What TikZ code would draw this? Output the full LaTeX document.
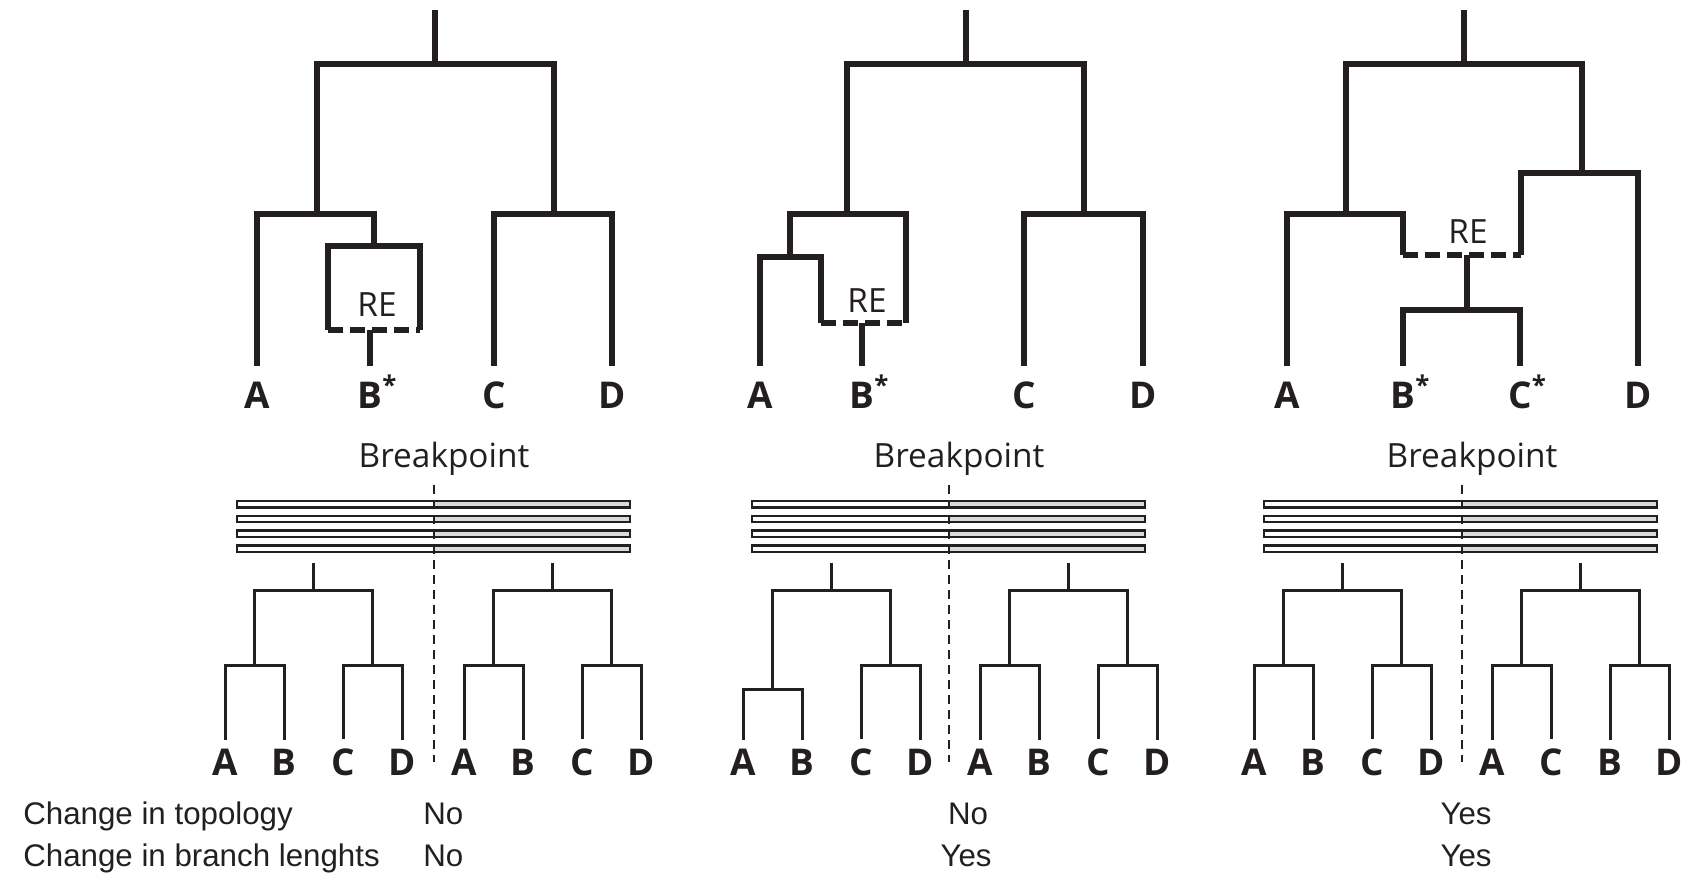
\documentclass[tikz,border=0pt]{standalone}
\usepackage{fontspec}
\setmainfont{Open Sans}
\newfontfamily\tablefont{Liberation Sans}
\definecolor{ink}{HTML}{231F20}
\definecolor{barfill}{HTML}{D9DADB}

\begin{document}
\begin{tikzpicture}[x=0.02cm, y=-0.02cm, ink,
  branch/.style={draw=ink, line width=0.105cm},
  rebranch/.style={draw=ink, line width=0.105cm, dash pattern=on 0.3cm off 0.14cm},
  tip/.style={shorten <=0.3cm},
  tipend/.style={shorten >=0.3cm},
  tips/.style={shorten <=0.3cm, shorten >=0.3cm},
  twig/.style={draw=ink, line width=0.06cm},
  twigtips/.style={shorten <=0.17cm, shorten >=0.17cm},
  leaf/.style={anchor=base, inner sep=0pt, font=\fontsize{21}{21}\selectfont\bfseries},
  note/.style={anchor=base, inner sep=0pt, font=\fontsize{19}{19}\selectfont},
  segment/.style={draw=ink, line width=0.045cm},
  breakline/.style={draw=ink, line width=0.04cm, dash pattern=on 0.18cm off 0.12cm},
  answer/.style={anchor=base west, inner sep=0pt, font=\tablefont\fontsize{17.8}{17.8}\selectfont}]
\useasboundingbox (0,0) rectangle (1697,886);

\node[leaf] (A1) at (257,408) {A};
\node[leaf] (B1) at (370,408) {B\rlap{\smash{\textsuperscript{*}}}};
\node[leaf] (C1) at (494,408) {C};
\node[leaf] (D1) at (612,408) {D};
\node[note] (re1) at (377,316) {RE};
\coordinate (top1) at (435,10);
\coordinate (root1) at (435,64);
\coordinate (ab1) at (317,214);
\coordinate (cd1) at (554,214);
\coordinate (box1) at (374,246);
\coordinate (rel1) at (328,330);
\coordinate (rer1) at (420,330);
\coordinate (reb1) at (370,330);
\draw[branch] (top1) -- (root1);
\draw[branch] (ab1) |- (root1) -| (cd1);
\draw[branch, tip] (A1.north) |- (ab1) -| (box1);
\draw[branch] (rel1) |- (box1) -| (rer1);
\draw[rebranch] (rel1) -- (rer1);
\draw[branch, tip] (B1.north) -- (reb1);
\draw[branch, tips] (C1.north) |- (cd1) -| (D1.north);

\node[leaf] (A2) at (760,408) {A};
\node[leaf] (B2) at (862,408) {B\rlap{\smash{\textsuperscript{*}}}};
\node[leaf] (C2) at (1024,408) {C};
\node[leaf] (D2) at (1143,408) {D};
\node[note] (re2) at (867,312) {RE};
\coordinate (top2) at (966,10);
\coordinate (root2) at (966,64);
\coordinate (ab2) at (847,214);
\coordinate (cd2) at (1084,214);
\coordinate (a2) at (790,257);
\coordinate (rel2) at (821,323);
\coordinate (rer2) at (906,323);
\coordinate (reb2) at (862,323);
\draw[branch] (top2) -- (root2);
\draw[branch] (ab2) |- (root2) -| (cd2);
\draw[branch] (a2) |- (ab2) -| (rer2);
\draw[branch, tip] (A2.north) |- (a2) -| (rel2);
\draw[rebranch] (rel2) -- (rer2);
\draw[branch, tip] (B2.north) -- (reb2);
\draw[branch, tips] (C2.north) |- (cd2) -| (D2.north);

\node[leaf] (A3) at (1287,408) {A};
\node[leaf] (B3) at (1403,408) {B\rlap{\smash{\textsuperscript{*}}}};
\node[leaf] (C3) at (1520,408) {C\rlap{\smash{\textsuperscript{*}}}};
\node[leaf] (D3) at (1638,408) {D};
\node[note] (re3) at (1468,243) {RE};
\coordinate (top3) at (1464,10);
\coordinate (root3) at (1464,64);
\coordinate (ab3) at (1346,214);
\coordinate (cd3) at (1582,173);
\coordinate (rel3) at (1403,255);
\coordinate (rer3) at (1521,255);
\coordinate (reb3) at (1467,255);
\coordinate (bc3) at (1467,310);
\draw[branch] (top3) -- (root3);
\draw[branch] (ab3) |- (root3) -| (cd3);
\draw[branch, tip] (A3.north) |- (ab3) -| (rel3);
\draw[branch, tipend] (rer3) |- (cd3) -| (D3.north);
\draw[rebranch] (rel3) -- (rer3);
\draw[branch] (reb3) -- (bc3);
\draw[branch, tips] (B3.north) |- (bc3) -| (C3.north);

\foreach \bx/\bp [count=\i] in {237/434, 752/949, 1264/1462} {
  \node[note] (bp\i) at (\bp+10,467) {Breakpoint};
  \foreach \k in {0,...,3} {
    \draw[segment, fill=white] (\bx,501+14.8*\k) rectangle (\bp,507.5+14.8*\k);
    \draw[segment, fill=barfill] (\bp,501+14.8*\k) rectangle (\bx+393,507.5+14.8*\k);
  }
  \draw[breakline] (\bp,485) -- (\bp,762);
}

\foreach \x/\h/\la/\lb/\lc/\ld [count=\i] in {225/665/A/B/C/D, 464/665/A/B/C/D,
    743/689/A/B/C/D, 980/665/A/B/C/D, 1254/665/A/B/C/D, 1492/665/A/C/B/D} {
  \node[leaf] (s\i a) at (\x,775) {\la};
  \node[leaf] (s\i b) at (\x+59,775) {\lb};
  \node[leaf] (s\i c) at (\x+118,775) {\lc};
  \node[leaf] (s\i d) at (\x+177,775) {\ld};
  \coordinate (s\i ab) at (\x+29.5,\h);
  \coordinate (s\i cd) at (\x+147.5,665);
  \coordinate (s\i r) at (\x+88.5,590);
  \coordinate (s\i t) at (\x+88.5,563);
  \draw[twig] (s\i t) -- (s\i r);
  \draw[twig] (s\i ab) |- (s\i r) -| (s\i cd);
  \draw[twig, twigtips] (s\i a.north) |- (s\i ab) -| (s\i b.north);
  \draw[twig, twigtips] (s\i c.north) |- (s\i cd) -| (s\i d.north);
}

\node[answer] (q1) at (23,824) {Change in topology};
\node[answer] (q2) at (23,866) {Change in branch lenghts};
\node[answer] (n11) at (423,824) {No};
\node[answer] (n12) at (423,866) {No};
\node[answer, anchor=base] (n21) at (968,824) {No};
\node[answer, anchor=base] (n22) at (966,866) {Yes};
\node[answer, anchor=base] (n31) at (1466,824) {Yes};
\node[answer, anchor=base] (n32) at (1466,866) {Yes};
\end{tikzpicture}
\end{document}
